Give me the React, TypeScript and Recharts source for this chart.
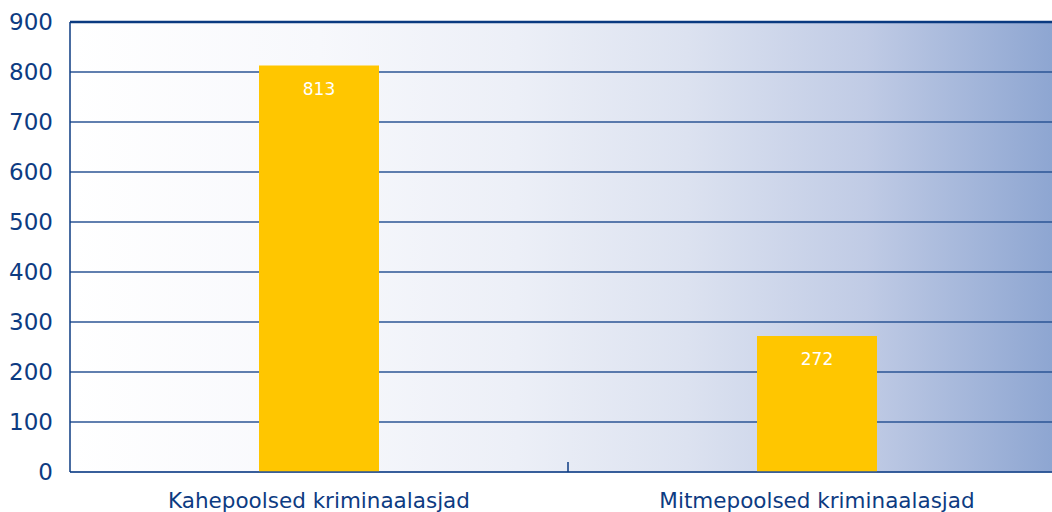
import { BarChart, Bar, XAxis, YAxis, CartesianGrid, LabelList, ReferenceLine } from 'recharts'

const categories = ['Kahepoolsed kriminaalasjad', 'Mitmepoolsed kriminaalasjad']
const values = [813, 272]
const yTicks = [0, 100, 200, 300, 400, 500, 600, 700, 800, 900]

const data = categories.map((name, i) => ({ name, value: values[i] }))

const NAVY = '#0d3b82'
const GRID = '#2b5495'
const FONT = '"DejaVu Sans", Verdana, sans-serif'

function XTick(props: any) {
  const { x, y, payload, index } = props
  const half = payload?.offset ?? 0
  return (
    <g>
      <text x={x} y={y + 36} textAnchor="middle" fill={NAVY} fontSize={21.5} fontFamily={FONT}>
        {payload.value}
      </text>
      {index === 0 && half > 0 && (
        <line x1={x + half} x2={x + half} y1={y} y2={y - 10} stroke={NAVY} strokeWidth={1.5} />
      )}
    </g>
  )
}

export default function App() {
  return (
    <div style={{ position: 'absolute', left: 0, top: 0, width: 1052, height: 512, overflow: 'hidden', background: '#fff' }}>
      <BarChart
        width={1066}
        height={512}
        data={data}
        margin={{ top: 22, right: 0, left: 0, bottom: 0 }}
        barSize={120}
      >
        <defs>
          <linearGradient id="bgGrad" x1="0" y1="0" x2="1" y2="0">
            <stop offset="0%" stopColor="#ffffff" />
            <stop offset="25%" stopColor="#f7f8fc" />
            <stop offset="45%" stopColor="#eceff7" />
            <stop offset="62%" stopColor="#dce2f0" />
            <stop offset="80%" stopColor="#c0cbe5" />
            <stop offset="100%" stopColor="#8aa3d0" />
          </linearGradient>
        </defs>
        <CartesianGrid fill="url(#bgGrad)" vertical={false} stroke={GRID} strokeWidth={1.5} />
        <ReferenceLine y={900} stroke="#0a3a80" strokeWidth={2.5} />
        <XAxis
          dataKey="name"
          height={40}
          axisLine={{ stroke: GRID, strokeWidth: 1.5 }}
          tickLine={false}
          tickSize={0}
          tickMargin={0}
          tick={<XTick />}
          interval={0}
        />
        <YAxis
          width={70}
          domain={[0, 900]}
          ticks={yTicks}
          interval={0}
          axisLine={{ stroke: NAVY, strokeWidth: 1.5 }}
          tickLine={false}
          tickSize={0}
          tickMargin={17}
          tick={{ fill: NAVY, fontSize: 23, fontFamily: FONT }}
        />
        <Bar dataKey="value" fill="#ffc600" isAnimationActive={false}>
          <LabelList
            dataKey="value"
            position="insideTop"
            offset={17}
            fill="#ffffff"
            fontSize={17}
            fontFamily={FONT}
          />
        </Bar>
      </BarChart>
    </div>
  )
}
